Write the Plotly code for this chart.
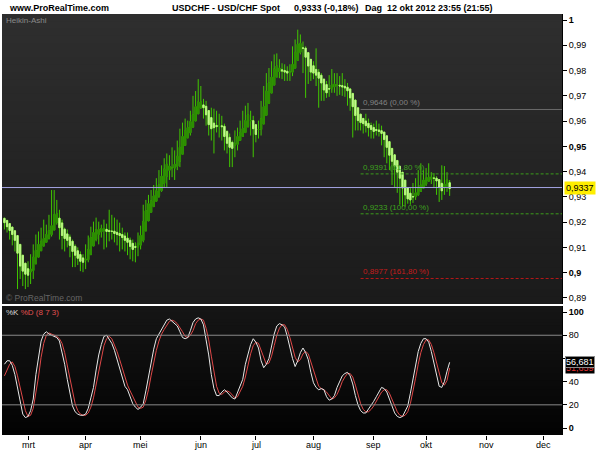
import plotly.graph_objects as go
import pandas as pd

# ---------------- data ----------------
first_date = "2012-02-17"
last_date = "2012-10-12"
axis_end = "2012-12-31"

ha_first_open = 0.9215
ha_close = [
    0.9198, 0.9182, 0.9167, 0.9151, 0.9128, 0.9077, 0.9026, 0.9006, 0.8994, 0.8990,
    0.9014, 0.9061, 0.9088, 0.9112, 0.9124, 0.9135, 0.9151, 0.9167, 0.9186, 0.9229,
    0.9233, 0.9178, 0.9147, 0.9135, 0.9128, 0.9108, 0.9084, 0.9069, 0.9057, 0.9045,
    0.9041, 0.9053, 0.9092, 0.9139, 0.9159, 0.9171, 0.9171, 0.9175, 0.9175, 0.9163,
    0.9163, 0.9163, 0.9155, 0.9151, 0.9147, 0.9139, 0.9128, 0.9120, 0.9104, 0.9092,
    0.9100, 0.9116, 0.9147, 0.9202, 0.9245, 0.9273, 0.9284, 0.9304, 0.9324, 0.9347,
    0.9382, 0.9410, 0.9429, 0.9422, 0.9414, 0.9429, 0.9461, 0.9496, 0.9539, 0.9563,
    0.9574, 0.9598, 0.9625, 0.9657, 0.9676, 0.9676, 0.9653, 0.9625, 0.9586, 0.9570,
    0.9574, 0.9578, 0.9582, 0.9578, 0.9539, 0.9512, 0.9496, 0.9492, 0.9512, 0.9539,
    0.9555, 0.9570, 0.9602, 0.9625, 0.9602, 0.9570, 0.9547, 0.9567, 0.9610, 0.9657,
    0.9719, 0.9751, 0.9774, 0.9806, 0.9818, 0.9810, 0.9798, 0.9794, 0.9790, 0.9794,
    0.9825, 0.9872, 0.9904, 0.9908, 0.9888, 0.9853, 0.9818, 0.9794, 0.9790, 0.9782,
    0.9770, 0.9751, 0.9723, 0.9712, 0.9727, 0.9743, 0.9747, 0.9743, 0.9739, 0.9735,
    0.9731, 0.9720, 0.9692, 0.9657, 0.9622, 0.9602, 0.9594, 0.9590, 0.9582, 0.9574,
    0.9567, 0.9559, 0.9563, 0.9559, 0.9551, 0.9527, 0.9496, 0.9465, 0.9441, 0.9422,
    0.9398, 0.9374, 0.9335, 0.9308, 0.9292, 0.9288, 0.9300, 0.9316, 0.9335, 0.9347,
    0.9367, 0.9374, 0.9378, 0.9378, 0.9374, 0.9363, 0.9339, 0.9324, 0.9351, 0.9367,
    0.9333,
]
ha_high = [
    0.9218, 0.9210, 0.9194, 0.9178, 0.9159, 0.9139, 0.9092, 0.9045, 0.9030, 0.9045,
    0.9073, 0.9112, 0.9151, 0.9163, 0.9178, 0.9210, 0.9190, 0.9229, 0.9327, 0.9327,
    0.9288, 0.9249, 0.9210, 0.9178, 0.9171, 0.9151, 0.9131, 0.9112, 0.9100, 0.9084,
    0.9073, 0.9112, 0.9147, 0.9182, 0.9202, 0.9218, 0.9202, 0.9190, 0.9210, 0.9194,
    0.9249, 0.9229, 0.9218, 0.9210, 0.9198, 0.9178, 0.9159, 0.9159, 0.9139, 0.9131,
    0.9120, 0.9159, 0.9186, 0.9269, 0.9288, 0.9308, 0.9327, 0.9347, 0.9374, 0.9406,
    0.9425, 0.9453, 0.9472, 0.9465, 0.9496, 0.9484, 0.9523, 0.9570, 0.9594, 0.9610,
    0.9602, 0.9641, 0.9700, 0.9719, 0.9766, 0.9739, 0.9688, 0.9680, 0.9641, 0.9653,
    0.9649, 0.9641, 0.9629, 0.9621, 0.9590, 0.9563, 0.9551, 0.9523, 0.9563, 0.9574,
    0.9602, 0.9641, 0.9661, 0.9672, 0.9641, 0.9621, 0.9582, 0.9602, 0.9680, 0.9739,
    0.9790, 0.9810, 0.9837, 0.9864, 0.9868, 0.9845, 0.9829, 0.9825, 0.9817, 0.9825,
    0.9896, 0.9923, 0.9962, 0.9943, 0.9915, 0.9896, 0.9857, 0.9829, 0.9837, 0.9888,
    0.9806, 0.9790, 0.9759, 0.9759, 0.9782, 0.9806, 0.9790, 0.9790, 0.9778, 0.9790,
    0.9766, 0.9751, 0.9731, 0.9700, 0.9661, 0.9641, 0.9618, 0.9610, 0.9629, 0.9610,
    0.9594, 0.9590, 0.9602, 0.9590, 0.9582, 0.9551, 0.9523, 0.9492, 0.9465, 0.9445,
    0.9425, 0.9406, 0.9386, 0.9347, 0.9327, 0.9335, 0.9355, 0.9374, 0.9406, 0.9433,
    0.9406, 0.9414, 0.9433, 0.9398, 0.9394, 0.9382, 0.9367, 0.9425, 0.9422, 0.9398,
    0.9367,
]
ha_low = [
    0.9171, 0.9159, 0.9131, 0.9108, 0.9084, 0.8935, 0.8975, 0.8947, 0.8935, 0.8943,
    0.8955, 0.8975, 0.9045, 0.9061, 0.9092, 0.9104, 0.9120, 0.9131, 0.9143, 0.9171,
    0.9190, 0.9131, 0.9092, 0.9084, 0.9100, 0.9061, 0.9022, 0.9022, 0.9030, 0.9006,
    0.9002, 0.9014, 0.9041, 0.9069, 0.9112, 0.9124, 0.9112, 0.9139, 0.9092, 0.9100,
    0.9124, 0.9131, 0.9120, 0.9108, 0.9084, 0.9092, 0.9084, 0.9069, 0.9053, 0.9045,
    0.9041, 0.9065, 0.9092, 0.9120, 0.9171, 0.9229, 0.9249, 0.9265, 0.9280, 0.9296,
    0.9320, 0.9335, 0.9339, 0.9367, 0.9378, 0.9367, 0.9406, 0.9418, 0.9476, 0.9516,
    0.9535, 0.9543, 0.9582, 0.9610, 0.9629, 0.9649, 0.9610, 0.9582, 0.9543, 0.9523,
    0.9472, 0.9555, 0.9535, 0.9523, 0.9484, 0.9472, 0.9418, 0.9418, 0.9457, 0.9484,
    0.9523, 0.9543, 0.9555, 0.9574, 0.9543, 0.9457, 0.9516, 0.9531, 0.9543, 0.9602,
    0.9641, 0.9700, 0.9739, 0.9759, 0.9790, 0.9770, 0.9766, 0.9759, 0.9759, 0.9759,
    0.9778, 0.9810, 0.9857, 0.9864, 0.9790, 0.9692, 0.9747, 0.9759, 0.9766, 0.9739,
    0.9653, 0.9680, 0.9680, 0.9692, 0.9696, 0.9712, 0.9712, 0.9700, 0.9704, 0.9700,
    0.9696, 0.9661, 0.9641, 0.9535, 0.9563, 0.9563, 0.9563, 0.9551, 0.9555, 0.9539,
    0.9531, 0.9531, 0.9543, 0.9539, 0.9504, 0.9457, 0.9433, 0.9406, 0.9347, 0.9335,
    0.9316, 0.9269, 0.9261, 0.9261, 0.9273, 0.9269, 0.9276, 0.9288, 0.9304, 0.9320,
    0.9335, 0.9343, 0.9359, 0.9351, 0.9335, 0.9308, 0.9280, 0.9288, 0.9308, 0.9320,
    0.9304,
]
stoch_k = [
    55, 58, 58, 54, 46, 35, 24, 12, 9, 10,
    15, 25, 46, 62, 75, 81, 83, 81, 80, 79,
    78, 75, 66, 55, 42, 30, 19, 14, 12, 11,
    11, 12, 17, 26, 35, 50, 63, 72, 79, 80,
    77, 73, 67, 59, 51, 42, 36, 33, 27, 21,
    18, 16, 18, 21, 32, 45, 57, 68, 77, 81,
    86, 89, 93, 94, 92, 90, 88, 83, 78, 77,
    78, 84, 91, 94, 95, 94, 89, 76, 63, 46,
    34, 28, 28, 31, 33, 31, 28, 26, 25, 31,
    36, 42, 55, 64, 72, 77, 74, 69, 58, 52,
    55, 60, 72, 81, 88, 90, 89, 87, 79, 69,
    60, 53, 58, 65, 69, 65, 59, 48, 39, 35,
    33, 34, 33, 27, 24, 25, 28, 35, 40, 45,
    47, 48, 45, 38, 28, 20, 15, 13, 13, 16,
    19, 23, 27, 31, 35, 34, 31, 25, 18, 13,
    10, 9, 10, 14, 19, 30, 43, 55, 66, 73,
    77, 77, 74, 66, 56, 45, 36, 35, 40, 49,
    56.681,
]
stoch_d = [
    45, 50, 55, 57, 53, 45, 35, 24, 15, 10,
    11, 17, 29, 44, 61, 73, 80, 82, 81, 80,
    79, 77, 73, 65, 54, 42, 30, 21, 15, 12,
    11, 11, 13, 18, 26, 37, 49, 62, 71, 77,
    79, 77, 72, 66, 59, 51, 43, 37, 32, 27,
    22, 18, 17, 18, 24, 33, 45, 57, 67, 75,
    81, 85, 89, 92, 93, 92, 90, 87, 83, 79,
    78, 80, 84, 90, 93, 94, 93, 86, 76, 62,
    48, 36, 30, 29, 31, 32, 31, 28, 26, 27,
    31, 36, 44, 54, 64, 71, 74, 73, 67, 60,
    55, 56, 62, 71, 80, 86, 89, 89, 85, 78,
    69, 61, 57, 59, 64, 66, 64, 57, 49, 41,
    36, 34, 33, 31, 28, 25, 26, 29, 34, 40,
    44, 47, 47, 44, 37, 29, 21, 16, 14, 14,
    16, 19, 23, 27, 31, 33, 33, 30, 25, 19,
    14, 11, 10, 11, 14, 21, 31, 43, 55, 65,
    72, 76, 76, 72, 65, 56, 46, 39, 37, 41,
    51.659,
]

month_labels = ["mrt", "apr", "mei", "jun", "jul", "aug", "sep", "okt", "nov", "dec"]
price_ticks = [0.89, 0.90, 0.91, 0.92, 0.93, 0.94, 0.95, 0.96, 0.97, 0.98, 0.99, 1.00]
price_ticktext = ["0,89", "<b>0,9</b>", "0,91", "0,92", "0,93", "0,94",
                  "<b>0,95</b>", "0,96", "0,97", "0,98", "0,99", "<b>1</b>"]
stoch_ticks = [0, 20, 40, 60, 80, 100]
stoch_ticktext = ["<b>0</b>", "20", "40", "60", "80", "<b>100</b>"]
stoch_bands = [80, 20]

fib_start = "2012-08-27"
fib_levels = [0.9646, 0.9391, 0.9233, 0.8977]
fib_labels = ["0,9646 (0,00 %)", "0,9391 (61,80 %)", "0,9233 (100,00 %)", "0,8977 (161,80 %)"]
fib_colors = ["#6a6a6a", "#3c9c1c", "#3c9c1c", "#b81818"]
fib_text_colors = ["#828282", "#3ea01e", "#3ea01e", "#c41c1c"]
fib_dashes = ["solid", "3px,2px", "3px,2px", "3px,2px"]

current_price = 0.9337
current_price_text = "0,9337"
stoch_k_text = "56,681"
stoch_d_text = "51,659"

# ---------------- derived positions ----------------
cal = pd.bdate_range(first_date, axis_end)
data_dates = pd.bdate_range(first_date, last_date)
xpos = list(range(len(data_dates)))

month_pos = []
for m in range(3, 13):
    first_bd = cal[(cal.month == m) & (cal.year == 2012)][0]
    month_pos.append(cal.get_loc(first_bd))
fib_pos = cal.get_loc(pd.Timestamp(fib_start))

x_range = [-0.93, 212.9]

# Heikin-Ashi open
ha_open = [ha_first_open]
for i in range(1, len(ha_close)):
    ha_open.append((ha_open[-1] + ha_close[i - 1]) / 2)
hi = [max(h, o, c) for h, o, c in zip(ha_high, ha_open, ha_close)]
lo = [min(l, o, c) for l, o, c in zip(ha_low, ha_open, ha_close)]
body_top = [max(o, c) for o, c in zip(ha_open, ha_close)]
body_bot = [min(o, c) for o, c in zip(ha_open, ha_close)]

FONT = "Liberation Sans"
WICK = "#40c800"

fig = go.Figure()

# wicks (full range)
fig.add_trace(go.Candlestick(
    x=xpos, open=ha_open, high=hi, low=lo, close=ha_close,
    xaxis="x", yaxis="y",
    increasing=dict(line=dict(color=WICK, width=1), fillcolor=WICK),
    decreasing=dict(line=dict(color=WICK, width=1), fillcolor=WICK),
    whiskerwidth=0, showlegend=False, hoverinfo="skip",
))
# bodies
fig.add_trace(go.Candlestick(
    x=xpos, open=ha_open, high=body_top, low=body_bot, close=ha_close,
    xaxis="x", yaxis="y",
    increasing=dict(line=dict(color="#2c8e00", width=1), fillcolor="#2c8e00"),
    decreasing=dict(line=dict(color="#b4f478", width=1), fillcolor="#dcffc0"),
    whiskerwidth=0, showlegend=False, hoverinfo="skip",
))

fig.add_trace(go.Scatter(x=xpos, y=stoch_d, mode="lines", xaxis="x2", yaxis="y2",
                         line=dict(color="#e04848", width=1), showlegend=False, hoverinfo="skip"))
fig.add_trace(go.Scatter(x=xpos, y=stoch_k, mode="lines", xaxis="x2", yaxis="y2",
                         line=dict(color="#e8e8e8", width=1), showlegend=False, hoverinfo="skip"))

main_dom = [0.3112, 1.0]
low_dom = [0.0, 0.3064]

shapes = []
# gradient backgrounds: stacked rects, each covering from the panel bottom up
N = 40
for k in range(N):
    f = k / (N - 1)
    c = int(round(46 - 19 * f))
    ytop = main_dom[1] - (main_dom[1] - main_dom[0]) * k / N
    shapes.append(dict(type="rect", xref="paper", yref="paper", x0=0, x1=1,
                       y0=main_dom[0], y1=ytop,
                       fillcolor=f"rgb({c},{c},{c})", line=dict(width=0), layer="below"))
    c2 = int(round(21 - 18 * f))
    ytop2 = low_dom[1] - (low_dom[1] - low_dom[0]) * k / N
    shapes.append(dict(type="rect", xref="paper", yref="paper", x0=0, x1=1,
                       y0=low_dom[0], y1=ytop2,
                       fillcolor=f"rgb({c2},{c2},{c2})", line=dict(width=0), layer="below"))

# current price line
shapes.append(dict(type="line", xref="x domain", yref="y", x0=0, x1=1,
                   y0=current_price, y1=current_price, line=dict(color="#a4a4e4", width=1)))
# fib lines
for lvl, col, dsh in zip(fib_levels, fib_colors, fib_dashes):
    shapes.append(dict(type="line", xref="x", yref="y", x0=fib_pos, x1=x_range[1],
                       y0=lvl, y1=lvl, line=dict(color=col, width=1, dash=dsh)))
# stochastic bands
for b in stoch_bands:
    shapes.append(dict(type="line", xref="x2 domain", yref="y2", x0=0, x1=1,
                       y0=b, y1=b, line=dict(color="#8a8a8a", width=1)))

annotations = []
# header
annotations.append(dict(text="<b>www.ProRealTime.com</b>", xref="paper", yref="paper",
                        x=(7 - 2) / 560, y=1.0142, xanchor="left", yanchor="middle", showarrow=False,
                        font=dict(family=FONT, size=9, color="#000")))
for txt, xp in [("USDCHF - USD/CHF Spot", 170), ("0,9333 (-0,18%)", 292),
                ("Dag  12 okt 2012 23:55 (21:55)", 363)]:
    annotations.append(dict(text="<b>" + txt + "</b>", xref="paper", yref="paper",
                            x=(xp - 2) / 560, y=1.0142, xanchor="left", yanchor="middle",
                            showarrow=False, font=dict(family=FONT, size=9, color="#000")))
annotations.append(dict(text="Heikin-Ashi", xref="paper", yref="paper", x=0.004, y=0.9857,
                        xanchor="left", yanchor="middle", showarrow=False,
                        font=dict(family=FONT, size=8, color="#8a8a8a")))
annotations.append(dict(text="© ProRealTime.com", xref="paper", yref="paper", x=0.003, y=0.3254,
                        xanchor="left", yanchor="middle", showarrow=False,
                        font=dict(family=FONT, size=8.5, color="#666")))
annotations.append(dict(text="<span style='color:#d8d8d8'>%K</span> <span style='color:#e05050'>%D (8 7 3)</span>",
                        xref="paper", yref="paper", x=0.004, y=0.2898, xanchor="left",
                        yanchor="middle", showarrow=False, font=dict(family=FONT, size=8)))
# month labels
for mp, ml in zip(month_pos, month_labels):
    annotations.append(dict(text=ml, xref="x2", yref="paper", x=mp, y=-0.0238,
                            xanchor="center", yanchor="middle", showarrow=False,
                            font=dict(family=FONT, size=9, color="#000")))
# fib labels
for lvl, tcol, lab in zip(fib_levels, fib_text_colors, fib_labels):
    annotations.append(dict(text=lab, xref="x", yref="y", x=fib_pos, y=lvl, xanchor="left",
                            yanchor="bottom", showarrow=False,
                            font=dict(family=FONT, size=8, color=tcol)))
# last price label
annotations.append(dict(text=current_price_text, xref="paper", yref="y", x=1, y=current_price,
                        xanchor="left", yanchor="middle", xshift=2, showarrow=False,
                        bgcolor="#ffee00", borderpad=1,
                        font=dict(family=FONT, size=9, color="#000")))
annotations.append(dict(text=stoch_d_text, xref="paper", yref="y2", x=1, y=stoch_d[-1],
                        xanchor="left", yanchor="middle", xshift=3, showarrow=False,
                        bgcolor="#000", borderpad=0,
                        font=dict(family=FONT, size=9, color="#e03030")))
annotations.append(dict(text=stoch_k_text, xref="paper", yref="y2", x=1, y=stoch_k[-1],
                        xanchor="left", yanchor="middle", xshift=3, showarrow=False,
                        bgcolor="#000", bordercolor="#8a8a8a", borderwidth=1, borderpad=0,
                        font=dict(family=FONT, size=9, color="#fff")))

fig.update_layout(
    width=600, height=450,
    margin=dict(l=2, r=38, t=14, b=15, autoexpand=False),
    paper_bgcolor="#ffffff", plot_bgcolor="rgba(0,0,0,0)",
    font=dict(family=FONT, size=9, color="#000"),
    showlegend=False,
    shapes=shapes, annotations=annotations,
    xaxis=dict(domain=[0, 1], range=x_range, anchor="y", showticklabels=False,
               showgrid=False, zeroline=False, ticks="", rangeslider=dict(visible=False),
               fixedrange=True),
    xaxis2=dict(domain=[0, 1], range=x_range, anchor="y2", tickvals=month_pos,
                showticklabels=False, ticks="outside", ticklen=4, tickcolor="#000",
                showgrid=False, zeroline=False, showline=False),
    yaxis=dict(domain=main_dom, range=[0.8876, 1.0024], side="right", anchor="x",
               tickvals=price_ticks, ticktext=price_ticktext, ticks="outside", ticklen=4,
               tickcolor="#000", showline=True, linecolor="#000", linewidth=1,
               showgrid=False, zeroline=False, automargin=False,
               tickfont=dict(family=FONT, size=9, color="#000")),
    yaxis2=dict(domain=low_dom, range=[-6, 105.2], side="right", anchor="x2",
                tickvals=stoch_ticks, ticktext=stoch_ticktext, ticks="outside", ticklen=4,
                tickcolor="#000", showline=True, linecolor="#000", linewidth=1,
                showgrid=False, zeroline=False, automargin=False,
                tickfont=dict(family=FONT, size=9, color="#000")),
)

fig.write_html("out.html", config={"displayModeBar": False},
               post_script="document.body.style.margin='0';document.body.style.padding='0';")
